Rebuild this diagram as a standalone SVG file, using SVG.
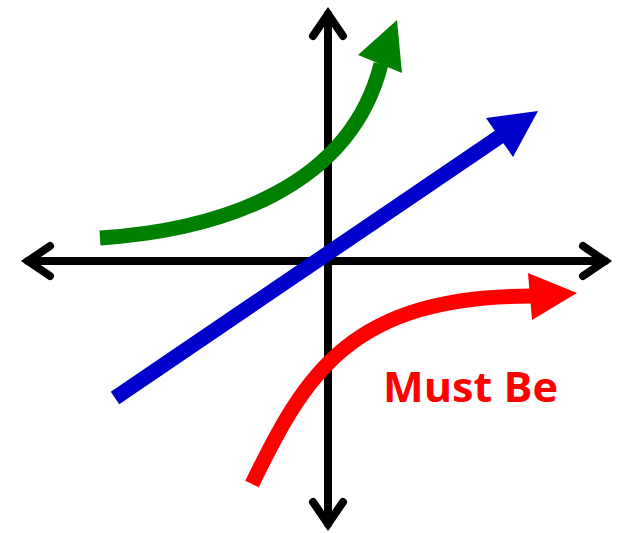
<svg xmlns="http://www.w3.org/2000/svg" width="619" height="533" viewBox="0 0 619 533">
<style>
.axis{fill:none;stroke:#000;stroke-width:8;stroke-linecap:round;stroke-linejoin:miter}
.curve{fill:none;stroke-width:15;stroke-linecap:butt}
</style>
<rect width="619" height="533" fill="#fff"/>
<g id="connectors">
<g id="x-axis">
<line class="axis" x1="28" y1="261" x2="605" y2="261"/>
<polyline class="axis" points="50,246 28,261 50,276"/>
<polyline class="axis" points="583,246 605,261 583,276"/>
</g>
<g id="y-axis">
<line class="axis" x1="328" y1="14" x2="328" y2="524"/>
<polyline class="axis" points="313,36 328,14 343,36"/>
<polyline class="axis" points="313,502 328,524 343,502"/>
</g>
<g id="green">
<path class="curve" stroke="#008000" d="M100,238 C220,230 350,188 381,64"/>
<polygon fill="#008000" points="397,20 402,73 358,55"/>
</g>
<g id="blue">
<line class="curve" stroke="#0000cc" x1="115" y1="398" x2="502" y2="135"/>
<polygon fill="#0000cc" points="538,111 486,118 513,157"/>
</g>
<g id="red">
<path class="curve" stroke="#ff0000" d="M252,484 C305,375 350,295 535,296"/>
<polygon fill="#ff0000" points="577,293 528,273 532,320"/>
</g>
</g>
<text x="383" y="402" font-family="'Open Sans', 'Liberation Sans', sans-serif" font-weight="bold" font-size="42" fill="#ff0000" textLength="175" lengthAdjust="spacingAndGlyphs">Must Be</text>
</svg>
